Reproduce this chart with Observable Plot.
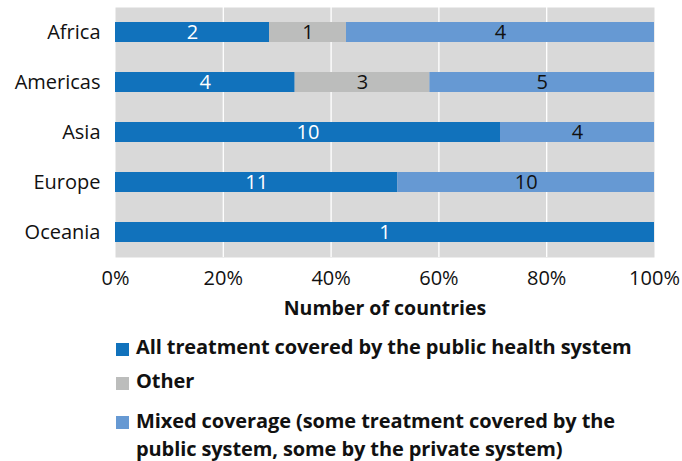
<!DOCTYPE html>
<html>
<head>
<meta charset="utf-8">
<script src="https://cdn.jsdelivr.net/npm/d3@7"></script>
<script src="https://cdn.jsdelivr.net/npm/@observablehq/plot@0.6"></script>
<style>
  body { margin: 0; background: #fff; font-family: "Open Sans", sans-serif; }
  #chart { width: 682px; }
  .legend { margin-left: 116px; margin-top: 14px; font-weight: bold; font-size: 20px; color: #111; letter-spacing: -0.1px; }
  .legend .item { display: flex; align-items: flex-start; line-height: 26px; }
  .legend .sw { width: 13px; height: 13px; margin-top: 9px; margin-right: 7px; flex: none; }
</style>
</head>
<body>
<div id="chart"></div>
<script>
const regions = ["Africa", "Americas", "Asia", "Europe", "Oceania"];
const types = [
  "All treatment covered by the public health system",
  "Other",
  "Mixed coverage (some treatment covered by the public system, some by the private system)"
];
const legendLines = [
  ["All treatment covered by the public health system"],
  ["Other"],
  ["Mixed coverage (some treatment covered by the", "public system, some by the private system)"]
];
const allPublic = [2, 4, 10, 11, 1];
const other = [1, 3, 0, 0, 0];
const mixed = [4, 5, 4, 10, 0];
const colors = ["#1172bc", "#bcbdbc", "#6699d3"];
const xTicks = [0, 0.2, 0.4, 0.6, 0.8, 1];

const series = [allPublic, other, mixed];
const data = [];
regions.forEach((r, i) => {
  types.forEach((t, j) => {
    if (series[j][i] > 0) data.push({region: r, type: t, value: series[j][i]});
  });
});

const stackOpts = {x: "value", y: "region", z: "type", order: types, offset: "normalize"};
const FONT = "'Open Sans', sans-serif";

const chart = Plot.plot({
  width: 682,
  height: 320,
  marginLeft: 115,
  marginRight: 28,
  marginTop: 7,
  marginBottom: 63,
  style: {fontFamily: FONT, fontSize: "20px", color: "#111", background: "#fff"},
  x: {domain: [0, 1]},
  y: {domain: regions, paddingInner: 0.6, paddingOuter: 0.3},
  color: {domain: types, range: colors},
  marks: [
    Plot.frame({fill: "#d9d9d9", stroke: null}),
    Plot.gridX([0.2, 0.4, 0.6, 0.8], {stroke: "#fff", strokeOpacity: 1, strokeWidth: 1.3}),
    Plot.barX(data, Plot.stackX({...stackOpts, fill: "type"})),
    Plot.text(data, Plot.stackX({...stackOpts, text: d => d.type === types[0] ? d.value : "", fill: "#fff", fontSize: 20})),
    Plot.text(data, Plot.stackX({...stackOpts, text: d => d.type !== types[0] ? d.value : "", fill: "#111", fontSize: 20})),
    Plot.axisY({tickSize: 0, tickPadding: 15, label: null, fontSize: 20}),
    Plot.axisX(xTicks, {tickSize: 0, tickPadding: 13, tickFormat: d3.format(".0%"), fontSize: 20,
      label: "Number of countries", labelAnchor: "center", labelArrow: "none", labelOffset: 57})
  ]
});
document.getElementById("chart").appendChild(chart);
chart.querySelectorAll("text").forEach(t => { t.style.fontSize = "20px"; });
const lbls = chart.querySelectorAll("[aria-label='x-axis label'] text, [aria-label='x-axis label']");
lbls.forEach(t => { t.style.fontWeight = "bold"; t.style.fontSize = "19.5px"; });

const gaps = [8, 13, 0];
const legend = document.createElement("div");
legend.className = "legend";
types.forEach((t, j) => {
  const item = document.createElement("div");
  item.className = "item";
  item.style.marginBottom = gaps[j] + "px";
  if (j === 2) item.style.lineHeight = "28px";
  const sw = document.createElement("div");
  sw.className = "sw";
  sw.style.background = colors[j];
  const tx = document.createElement("div");
  tx.innerHTML = legendLines[j].join("<br>");
  item.appendChild(sw);
  item.appendChild(tx);
  legend.appendChild(item);
});
document.getElementById("chart").appendChild(legend);
</script>
</body>
</html>
